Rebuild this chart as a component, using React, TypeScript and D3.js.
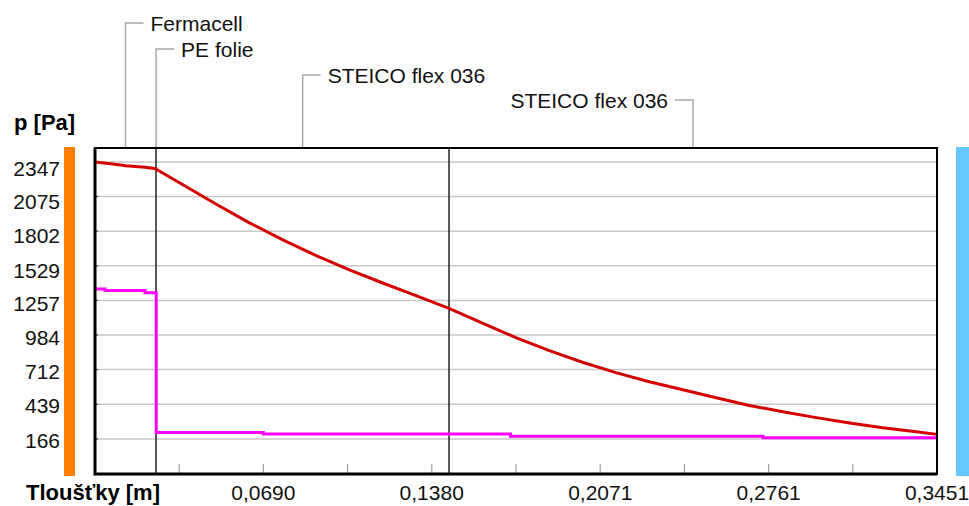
import React, { useRef, useEffect } from 'react';
import * as d3 from 'd3';

// layers of the wall, inside -> outside
const layerNames = ['Fermacell', 'PE folie', 'STEICO flex 036', 'STEICO flex 036'];
const layerThickness = [0.025, 0.0001, 0.12, 0.2];

// axis ticks
const yTickValues = [166, 439, 712, 984, 1257, 1529, 1802, 2075, 2347];
const xTickValues = [0.069, 0.138, 0.2071, 0.2761, 0.3451];
const xTickLabels = ['0,0690', '0,1380', '0,2071', '0,2761', '0,3451'];

// saturated vapour pressure (red)
const satX = [0, 0.0082, 0.0125, 0.0205, 0.025, 0.0251, 0.0362, 0.0499, 0.0635, 0.0772, 0.0909, 0.1045,
  0.1182, 0.1318, 0.1451, 0.1588, 0.1725, 0.1862, 0.1998, 0.2135, 0.2272, 0.2409, 0.2546, 0.2682,
  0.2819, 0.2956, 0.3093, 0.3229, 0.3366, 0.3451];
const satP = [2347, 2329, 2318, 2306, 2294, 2290, 2166, 2012, 1866, 1731, 1607, 1495,
  1392, 1292, 1195, 1078, 964, 862, 770, 688, 616, 553, 490, 430,
  380, 334, 292, 254, 222, 202];

// partial vapour pressure (magenta), stepped
const partX = [0, 0.0041, 0.0205, 0.0251, 0.069, 0.1703, 0.2738, 0.3451];
const partP = [1347, 1334, 1318, 216, 205, 187, 176, 176];

// label levels of the layer leaders (px from top)
const leaderY = [23, 49, 75, 100];

const W = 969;
const H = 506;
const plot = { left: 95, right: 937, top: 148, bottom: 474 };
const FONT = '"Liberation Sans", Arial, sans-serif';

export default function App() {
  const ref = useRef<SVGSVGElement>(null);

  useEffect(() => {
    const svg = d3.select(ref.current);
    svg.selectAll('*').remove();

    const x = d3.scaleLinear().domain([0, 0.3451]).range([plot.left, plot.right]);
    const y = d3.scaleLinear().domain([-110, 2457]).range([plot.bottom, plot.top]);
    // tick labels sit slightly off the grid in the original
    const yLab = d3.scaleLinear().domain([166, 2347]).range([440, 168]);

    svg.append('rect').attr('width', W).attr('height', H).attr('fill', '#fff');

    // side colour bars
    svg.append('rect').attr('x', 64).attr('y', 147).attr('width', 11).attr('height', 329).attr('fill', '#ff8000');
    svg.append('rect').attr('x', 956).attr('y', 147).attr('width', 13).attr('height', 329).attr('fill', '#66c8ff');

    // grid
    svg.append('g')
      .selectAll('line')
      .data(yTickValues)
      .enter()
      .append('line')
      .attr('x1', plot.left)
      .attr('x2', plot.right)
      .attr('y1', (d) => y(d))
      .attr('y2', (d) => y(d))
      .attr('stroke', '#c8c8c8')
      .attr('stroke-width', 1.5);

    // small ticks on left axis
    svg.append('g')
      .selectAll('line')
      .data(yTickValues)
      .enter()
      .append('line')
      .attr('x1', plot.left)
      .attr('x2', plot.left + 3)
      .attr('y1', (d) => y(d))
      .attr('y2', (d) => y(d))
      .attr('stroke', '#333');

    // minor x ticks
    const minor = d3.range(1, 10).map((i) => (i * 0.3451) / 10);
    svg.append('g')
      .selectAll('line')
      .data(minor)
      .enter()
      .append('line')
      .attr('x1', (d) => x(d))
      .attr('x2', (d) => x(d))
      .attr('y1', plot.bottom)
      .attr('y2', plot.bottom - 10)
      .attr('stroke', '#a0a0a0')
      .attr('stroke-width', 1.2);

    // layer boundaries
    const bounds = d3.cumsum(layerThickness);
    const starts = [0, ...Array.from(bounds).slice(0, -1)];
    [bounds[0], bounds[2]].forEach((b) => {
      svg.append('line')
        .attr('x1', x(b)).attr('x2', x(b))
        .attr('y1', plot.top).attr('y2', plot.bottom)
        .attr('stroke', '#222').attr('stroke-width', 1.5);
    });

    // layer name leaders
    const lg = svg.append('g').attr('font-family', FONT).attr('font-size', 21).attr('fill', '#111');
    layerNames.forEach((name, i) => {
      const mx = x((starts[i] + bounds[i]) / 2);
      const ly = leaderY[i];
      const toLeft = i === layerNames.length - 1;
      const hx = toLeft ? mx - 18 : mx + 18;
      lg.append('path')
        .attr('d', `M${mx},${plot.top}V${ly}H${hx}`)
        .attr('fill', 'none')
        .attr('stroke', '#a8a8a8')
        .attr('stroke-width', 1.5);
      lg.append('text')
        .attr('x', toLeft ? hx - 7 : hx + 7)
        .attr('y', ly + 8)
        .attr('text-anchor', toLeft ? 'end' : 'start')
        .text(name);
    });

    // data lines
    const line = d3.line<number>().x((d, i) => x(satX[i])).y((d) => y(d));
    svg.append('path')
      .datum(satP)
      .attr('d', line)
      .attr('fill', 'none')
      .attr('stroke', '#d40000')
      .attr('stroke-width', 3);

    const stepLine = d3.line<number>().x((d, i) => x(partX[i])).y((d) => y(d)).curve(d3.curveStepAfter);
    svg.append('path')
      .datum(partP)
      .attr('d', stepLine)
      .attr('fill', 'none')
      .attr('stroke', '#ff00ff')
      .attr('stroke-width', 3);

    // frame
    svg.append('rect')
      .attr('x', plot.left).attr('y', plot.top)
      .attr('width', plot.right - plot.left).attr('height', plot.bottom - plot.top)
      .attr('fill', 'none').attr('stroke', '#000').attr('stroke-width', 2);
    svg.append('path')
      .attr('d', `M${plot.left},${plot.top}V${plot.bottom}H${plot.right}`)
      .attr('fill', 'none').attr('stroke', '#000').attr('stroke-width', 3);

    // y labels
    svg.append('g')
      .attr('font-family', FONT).attr('font-size', 21).attr('fill', '#111')
      .selectAll('text')
      .data(yTickValues)
      .enter()
      .append('text')
      .attr('x', 60)
      .attr('y', (d) => yLab(d) + 7.5)
      .attr('text-anchor', 'end')
      .text((d) => d);

    // x labels
    svg.append('g')
      .attr('font-family', FONT).attr('font-size', 21).attr('fill', '#111')
      .selectAll('text')
      .data(xTickValues)
      .enter()
      .append('text')
      .attr('x', (d) => x(d))
      .attr('y', 500)
      .attr('text-anchor', 'middle')
      .text((d, i) => xTickLabels[i]);

    // axis titles
    svg.append('text')
      .attr('x', 14).attr('y', 130)
      .attr('font-family', FONT).attr('font-size', 22).attr('font-weight', 'bold')
      .text('p [Pa]');
    svg.append('text')
      .attr('x', 26).attr('y', 500)
      .attr('font-family', FONT).attr('font-size', 22).attr('font-weight', 'bold')
      .text('Tloušťky [m]');
  }, []);

  return <svg ref={ref} width={W} height={H} style={{ position: 'absolute', left: 0, top: 0 }} />;
}
